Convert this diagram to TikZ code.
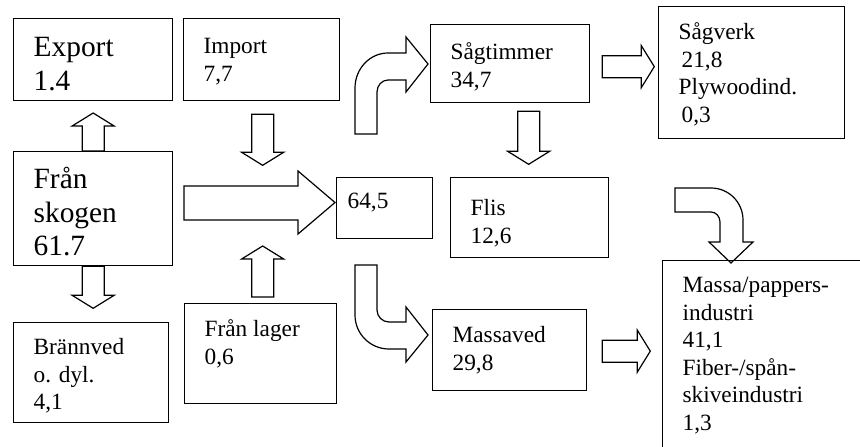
\documentclass[tikz,border=0pt]{standalone}
\usepackage{fontspec}
\setmainfont{Liberation Serif}
\usetikzlibrary{calc}

% straight block arrow: start point, direction, length
\newcommand\flowarrow[3]{%
  \draw[blockarrow, shift={(#1)}, rotate=#2]
    (0,-11) -- (#3-13,-11) -- (#3-13,-21) -- (#3,0) -- (#3-13,21) -- (#3-13,11) -- (0,11) -- cycle;}

\begin{document}
\begin{tikzpicture}[
x=1pt, y=-1pt,
box/.style n args={3}{draw, line width=1.3pt, anchor=north west, inner xsep=20pt, inner ysep=0pt,
  font=\fontsize{23.3}{27.5}\selectfont,
  execute at begin node={\begin{minipage}[t][#2pt][t]{#1pt}\rule{0pt}{#3pt}},
  execute at end node={\end{minipage}}},
big/.style={font=\fontsize{29.4}{33.5}\selectfont},
blockarrow/.style={draw, line width=1.2pt, line join=miter}
]
\useasboundingbox (0,0) rectangle (860,447);
\clip (0,0) rectangle (860,447);

% boxes
\node[box={119}{82}{38}, big] (export) at (13,18) {Export\\1.4};
\node[box={116}{82}{35}] (imp) at (183,18) {Import\\7,7};
\node[box={119}{114}{37}, big] (skogen) at (13,151) {Från\\skogen\\61.7};
\node[box={115}{100}{32}] (brann) at (13,322) {Brännved\\o. dyl.\\4,1};
\node[box={112}{100}{33}] (lager) at (184,303) {Från lager\\0,6};
\node[box={74}{61}{31}, inner xsep=11pt] (total) at (336,177) {64,5};
\node[box={119}{78}{35}] (sagtimmer) at (430,24) {Sågtimmer\\34,7};
\node[box={118}{80}{38}] (flis) at (450,177) {Flis\\12,6};
\node[box={146}{132}{33}] (sagverk) at (658,6) {Sågverk\\\hspace*{3pt}21,8\\Plywoodind.\\\hspace*{3pt}0,3};
\node[box={114}{81}{33}] (massaved) at (432,309) {Massaved\\29,8};
\node[box={180}{200}{32}] (massa) at (662,260) {Massa/pappers-\\industri\\41,1\\Fiber-/spån-\\skiveindustri\\1,3};

% straight arrows
\flowarrow{skogen.north}{90}{38}
\flowarrow{skogen.south}{-90}{42}
\flowarrow{$(imp.south)+(1,13)$}{-90}{51}
\flowarrow{$(lager.north)+(2,-6)$}{90}{51}
\flowarrow{$(sagtimmer.east)+(12,3)$}{0}{52}
\flowarrow{$(sagtimmer.south -| flis.north)+(-1,8)$}{-90}{53}
\flowarrow{$(massaved.east)+(15,1)$}{0}{48}
\draw[blockarrow] (184,186) -- (298,186) -- (298,171) -- (335,202.5) -- (298,234) -- (298,220) -- (184,220) -- cycle;

% bent arrows
\draw[blockarrow] (355,134) -- (355,88) .. controls (355,68.7) and (369.8,53) .. (388,53) -- (406,53) -- (406,37) -- (428,64) -- (406,92) -- (406,80) -- (388,80) .. controls (381.9,80) and (377,85.4) .. (377,92) -- (377,134) -- cycle;
\draw[blockarrow] (355,265) -- (377,265) -- (377,310) .. controls (377,316.6) and (382.4,322) .. (389,322) -- (406,322) -- (406,307) -- (428,335) -- (406,362) -- (406,349) -- (389,349) .. controls (370.2,349) and (355,333.8) .. (355,315) -- cycle;
\draw[blockarrow] (675,188) -- (711,188) .. controls (728.7,188) and (743,202.3) .. (743,220) -- (743,242) -- (753,242) -- (731,263) -- (709,242) -- (720,242) -- (720,222) .. controls (720,216.5) and (716,212) .. (711,212) -- (675,212) -- cycle;
\end{tikzpicture}
\end{document}
